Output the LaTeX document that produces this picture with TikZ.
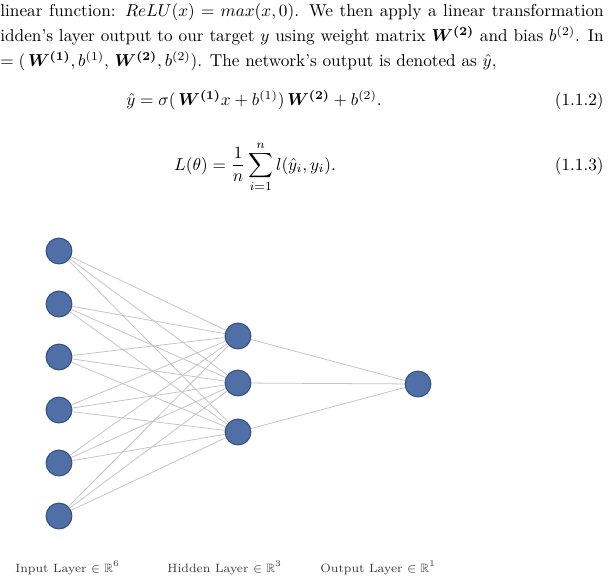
\documentclass[tikz,border=0pt]{standalone}
\usepackage{amsmath,amssymb,bm}
\definecolor{NodeBlue}{HTML}{4F6FA6}
\definecolor{NodeEdge}{HTML}{34507C}
\definecolor{LinkGray}{HTML}{C4C4C4}
\definecolor{LabelGray}{HTML}{3A3A3A}
\usetikzlibrary{positioning}

\begin{document}
\begin{tikzpicture}[x=0.58pt,y=-0.58pt,
neuron/.style={circle,draw=NodeEdge,line width=0.6pt,fill=NodeBlue,minimum size=15pt,inner sep=0pt},
link/.style={draw=LinkGray,line width=0.45pt},
txt/.style={anchor=base west,inner sep=0pt,font=\normalsize},
eqn/.style={anchor=base,inner sep=0pt},
tag/.style={anchor=base east,inner sep=0pt},
layer/.style={anchor=base west,inner sep=0pt,font=\scriptsize,text=LabelGray}
]
\useasboundingbox (0,0) rectangle (609,586);
% text above the figure
\node[txt] (L1) at (0,17) {\makebox[350pt][s]{linear function: $ReLU(x)=max(x,0)$. We then apply a linear transformation}};
\node[txt] (L2) at (0,42) {\makebox[350pt][s]{idden's layer output to our target $y$ using weight matrix $\bm{W^{(2)}}$ and bias $b^{(2)}$. In}};
\node[txt] (L3) at (0,67) {$=(\,\bm{W^{(1)}},b^{(1)},\,\bm{W^{(2)}},b^{(2)})$. The network's output is denoted as $\hat{y}$,};
\node[eqn] (E2) at (254,106) {$\hat{y}=\sigma(\,\bm{W^{(1)}}x+b^{(1)})\,\bm{W^{(2)}}+b^{(2)}.$};
\node[tag] (T2) at (604,106) {(1.1.2)};
\node[eqn] (E3) at (255,170) {$\displaystyle L(\theta)=\frac{1}{n}\sum_{i=1}^{n}l(\hat{y}_i,y_i).$};
\node[tag] (T3) at (604,170) {(1.1.3)};
% network
\node[neuron] (I1) at (59,251) {};
\node[neuron] (I2) at (59,304) {};
\node[neuron] (I3) at (59,357) {};
\node[neuron] (I4) at (59,410) {};
\node[neuron] (I5) at (59,463) {};
\node[neuron] (I6) at (59,516) {};
\node[neuron] (H1) at (238,336) {};
\node[neuron] (H2) at (238,383) {};
\node[neuron] (H3) at (238,432) {};
\node[neuron] (O1) at (418,384) {};
\draw[link] (I1) -- (H1) (I1) -- (H2) (I1) -- (H3);
\draw[link] (I2) -- (H1) (I2) -- (H2) (I2) -- (H3);
\draw[link] (I3) -- (H1) (I3) -- (H2) (I3) -- (H3);
\draw[link] (I4) -- (H1) (I4) -- (H2) (I4) -- (H3);
\draw[link] (I5) -- (H1) (I5) -- (H2) (I5) -- (H3);
\draw[link] (I6) -- (H1) (I6) -- (H2) (I6) -- (H3);
\draw[link] (H1) -- (O1) (H2) -- (O1) (H3) -- (O1);
% layer labels
\node[layer] (inlab) at (15,572) {Input Layer $\in\mathbb{R}^{6}$};
\node[layer] (hidlab) at (167,572) {Hidden Layer $\in\mathbb{R}^{3}$};
\node[layer] (outlab) at (320,572) {Output Layer $\in\mathbb{R}^{1}$};
\end{tikzpicture}
\end{document}
